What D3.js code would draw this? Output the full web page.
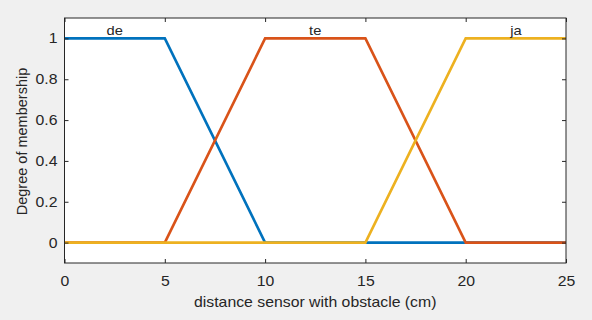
<!DOCTYPE html>
<meta charset="utf-8">
<style>
body {margin: 0; background: #f0f0f0;}
text {font-family: "Liberation Sans", Arial, sans-serif; fill: #262626;}
.tick text {font-size: 14px;}
</style>
<body>
<script src="https://d3js.org/d3.v7.min.js"></script>
<div id="chart"></div>
<script>
// data
var names = ["de", "te", "ja"];
var colors = ["#0072BD", "#D95319", "#EDB120"];
var xs = [
  [0, 5, 10, 25],
  [0, 5, 10, 15, 20, 25],
  [0, 15, 20, 25]
];
var ys = [
  [1, 1, 0, 0],
  [0, 0, 1, 1, 0, 0],
  [0, 0, 1, 1]
];
var labelX = [2.5, 12.5, 22.5];
var xTicks = [0, 5, 10, 15, 20, 25];
var yTicks = [0, 0.2, 0.4, 0.6, 0.8, 1];

var width = 592, height = 320,
    m = {left: 64.5, right: 26, top: 18, bottom: 57},
    sx = 1.13; // picture is a bit wider than tall

var x = d3.scaleLinear().domain([0, 25]).range([m.left, width - m.right]);
var y = d3.scaleLinear().domain([-0.1, 1.1]).range([height - m.bottom, m.top]);

var svg = d3.select("#chart").append("svg")
    .attr("width", width)
    .attr("height", height);

// widen a horizontal text around its own x
function stretch(t) {
  t.attr("transform", function() {
    var px = +(this.getAttribute("x") || 0);
    return "translate(" + px + ",0) scale(" + sx + ",1) translate(" + (-px) + ",0)";
  });
}

svg.append("rect")
    .attr("x", x(0)).attr("y", y(1.1))
    .attr("width", x(25) - x(0)).attr("height", y(-0.1) - y(1.1))
    .attr("fill", "#fff");

var line = d3.line()
    .x(function(d) { return x(d[0]); })
    .y(function(d) { return y(d[1]); });

names.forEach(function(n, i) {
  var pts = xs[i].map(function(v, j) { return [v, ys[i][j]]; });
  svg.append("path")
      .attr("d", line(pts))
      .attr("fill", "none")
      .attr("stroke", colors[i])
      .attr("stroke-width", 2.6);
  svg.append("text")
      .attr("x", x(labelX[i]))
      .attr("y", y(1) - 3.5)
      .attr("text-anchor", "middle")
      .style("font-size", "13px")
      .text(n)
      .call(stretch);
});

// axes, ticks inward
function style(g) {
  g.select(".domain").remove();
  g.selectAll(".tick line").attr("stroke", "#262626");
  g.selectAll(".tick text").call(stretch);
}
svg.append("g")
    .attr("transform", "translate(0," + y(-0.1) + ")")
    .call(d3.axisBottom(x).tickValues(xTicks).tickSizeInner(-4).tickPadding(13).tickFormat(d3.format("d")))
    .call(style);
svg.append("g")
    .attr("transform", "translate(0," + y(1.1) + ")")
    .call(d3.axisTop(x).tickValues(xTicks).tickSizeInner(-4).tickFormat(""))
    .call(style);
svg.append("g")
    .attr("transform", "translate(" + x(0) + ",0)")
    .call(d3.axisLeft(y).tickValues(yTicks).tickSizeInner(-4).tickPadding(7).tickFormat(function(d) { return d3.format("")(+d.toFixed(1)); }))
    .call(style);
svg.append("g")
    .attr("transform", "translate(" + x(25) + ",0)")
    .call(d3.axisRight(y).tickValues(yTicks).tickSizeInner(-4).tickFormat(""))
    .call(style);

svg.append("rect")
    .attr("x", x(0)).attr("y", y(1.1))
    .attr("width", x(25) - x(0)).attr("height", y(-0.1) - y(1.1))
    .attr("fill", "none")
    .attr("stroke", "#262626")
    .attr("stroke-width", 1);

svg.append("text")
    .attr("x", (x(0) + x(25)) / 2)
    .attr("y", 307)
    .attr("text-anchor", "middle")
    .style("font-size", "14px")
    .text("distance sensor with obstacle (cm)")
    .call(stretch);

svg.append("text")
    .attr("transform", "translate(27,141.5) rotate(-90)")
    .attr("text-anchor", "middle")
    .style("font-size", "14.5px")
    .text("Degree of membership");
</script>
</body>
